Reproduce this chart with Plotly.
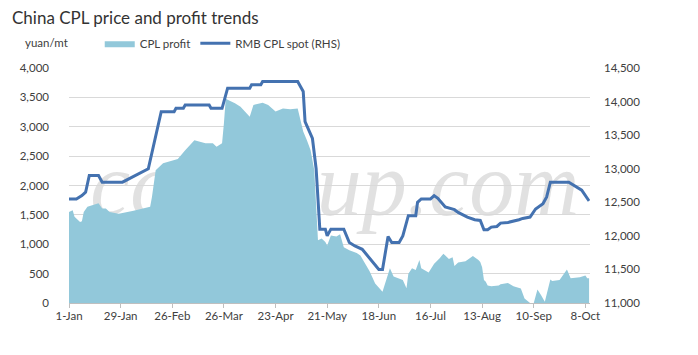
import plotly.graph_objects as go

# CPL profit (left axis, yuan/mt)
profit_dates = [
    "2018-01-01", "2018-01-03", "2018-01-04", "2018-01-07", "2018-01-08", "2018-01-09",
    "2018-01-11", "2018-01-16", "2018-01-17", "2018-01-19", "2018-01-21", "2018-01-23",
    "2018-01-28", "2018-02-05", "2018-02-14", "2018-02-15", "2018-02-17", "2018-02-21",
    "2018-02-26", "2018-03-01", "2018-03-05", "2018-03-10", "2018-03-16", "2018-03-20",
    "2018-03-22", "2018-03-25", "2018-03-26", "2018-03-27", "2018-03-28", "2018-04-01",
    "2018-04-04", "2018-04-09", "2018-04-11", "2018-04-16", "2018-04-19", "2018-04-23",
    "2018-04-27", "2018-05-01", "2018-05-05", "2018-05-06", "2018-05-08", "2018-05-10",
    "2018-05-12", "2018-05-14", "2018-05-16", "2018-05-18", "2018-05-20", "2018-05-21",
    "2018-05-23", "2018-05-26", "2018-05-28", "2018-05-30", "2018-06-02", "2018-06-06",
    "2018-06-08", "2018-06-13", "2018-06-16", "2018-06-20", "2018-06-23", "2018-06-24",
    "2018-06-26", "2018-07-01", "2018-07-03", "2018-07-04", "2018-07-06", "2018-07-08",
    "2018-07-10", "2018-07-11", "2018-07-15", "2018-07-18", "2018-07-21", "2018-07-23",
    "2018-07-26", "2018-07-28", "2018-07-29", "2018-07-31", "2018-08-04", "2018-08-08",
    "2018-08-11", "2018-08-12", "2018-08-13", "2018-08-14", "2018-08-15", "2018-08-16",
    "2018-08-18", "2018-08-22", "2018-08-23", "2018-08-27", "2018-08-30", "2018-09-03",
    "2018-09-05", "2018-09-08", "2018-09-10", "2018-09-12", "2018-09-14", "2018-09-16",
    "2018-09-19", "2018-09-20", "2018-09-24", "2018-09-26", "2018-09-28", "2018-09-30",
    "2018-10-05", "2018-10-08", "2018-10-09", "2018-10-10",
]
profit_values = [
    1550, 1580, 1470, 1380, 1390, 1550,
    1640, 1680, 1700, 1610, 1610, 1550,
    1520, 1570, 1640, 1810, 2260, 2380,
    2430, 2450, 2600, 2770, 2720, 2720,
    2660, 2720, 3060, 3480, 3460, 3400,
    3340, 3170, 3370, 3410, 3370, 3260,
    3310, 3300, 3310, 3170, 2920, 2770,
    2600, 2260, 1070, 1100, 1040, 980,
    1150, 1130, 1170, 950, 900, 850,
    810, 540, 330, 190, 470, 590,
    450, 390, 250, 500, 590, 560,
    730, 590, 520, 670, 760, 840,
    750, 780, 630, 690, 710, 800,
    730, 700, 610, 390, 360, 300,
    285, 300, 320, 340, 285, 245,
    75, 0, 0, 230, 130, 20,
    400, 375, 390, 470, 570, 420,
    440, 470, 420, 420,
]

# RMB CPL spot (right axis, yuan/mt)
spot_dates = [
    "2018-01-01", "2018-01-05", "2018-01-08", "2018-01-10", "2018-01-12", "2018-01-17",
    "2018-01-19", "2018-01-30", "2018-02-13", "2018-02-20", "2018-02-27", "2018-02-28",
    "2018-03-04", "2018-03-05", "2018-03-18", "2018-03-19", "2018-03-25", "2018-03-28",
    "2018-04-09", "2018-04-10", "2018-04-15", "2018-04-16", "2018-05-05", "2018-05-08",
    "2018-05-09", "2018-05-13", "2018-05-15", "2018-05-17", "2018-05-20", "2018-05-21",
    "2018-05-23", "2018-05-30", "2018-06-02", "2018-06-05", "2018-06-09", "2018-06-15",
    "2018-06-18", "2018-06-20", "2018-06-23", "2018-06-25", "2018-06-29", "2018-07-01",
    "2018-07-04", "2018-07-08", "2018-07-09", "2018-07-11", "2018-07-16", "2018-07-18",
    "2018-07-20", "2018-07-24", "2018-07-29", "2018-07-31", "2018-08-05", "2018-08-09",
    "2018-08-12", "2018-08-14", "2018-08-16", "2018-08-18", "2018-08-21", "2018-08-23",
    "2018-08-27", "2018-09-02", "2018-09-04", "2018-09-08", "2018-09-11", "2018-09-15",
    "2018-09-17", "2018-09-19", "2018-09-29", "2018-10-06", "2018-10-10",
]
spot_values = [
    12550, 12550, 12600, 12650, 12900, 12900,
    12800, 12800, 13000, 13850, 13850, 13900,
    13900, 13950, 13950, 13900, 13900, 14200,
    14200, 14250, 14250, 14300, 14300, 14150,
    13700, 13450, 13000, 12100, 12100, 12000,
    12100, 12100, 11900, 11850, 11800, 11600,
    11500, 11500, 11990, 11900, 11900, 12000,
    12300, 12300, 12500, 12550, 12550, 12600,
    12560, 12430, 12390, 12350, 12280, 12240,
    12230, 12090, 12090, 12130, 12140, 12190,
    12200, 12240, 12260, 12280, 12400, 12480,
    12580, 12800, 12800, 12680, 12520,
]

left_ticks = [0, 500, 1000, 1500, 2000, 2500, 3000, 3500, 4000]
right_ticks = [11000, 11500, 12000, 12500, 13000, 13500, 14000, 14500]

FONT = "Lato"
TXT = "#404040"
FS = 11.5

# page has an 8px body margin, so the figure is drawn 8px in from the window edge
W, H = 690, 347

fig = go.Figure()
fig.add_trace(go.Scatter(
    x=profit_dates, y=profit_values, name="CPL profit",
    mode="lines", fill="tozeroy", fillcolor="#92C8DA",
    line=dict(width=0, color="#92C8DA"), yaxis="y",
))
fig.add_trace(go.Scatter(
    x=spot_dates, y=spot_values, name="RMB CPL spot (RHS)",
    mode="lines", line=dict(width=3, color="#4472B0"), yaxis="y2",
))

fig.update_layout(
    width=W, height=H,
    margin=dict(l=53, r=108, t=60, b=52),
    paper_bgcolor="white", plot_bgcolor="white",
    font=dict(family=FONT, size=FS, color=TXT),
    title=dict(text="China CPL price and profit trends", x=4 / W, xref="container",
               xanchor="left", y=1 - 4 / H, yref="container", yanchor="top",
               pad=dict(t=0, l=0, b=0, r=0),
               font=dict(family=FONT, size=17, color="#333333")),
    showlegend=True,
    legend=dict(orientation="h", x=0.059, y=1.105, xanchor="left", yanchor="middle",
                font=dict(family=FONT, size=FS, color=TXT), bgcolor="rgba(0,0,0,0)",
                itemwidth=30, tracegroupgap=0),
    xaxis=dict(
        type="date", range=["2018-01-01", "2018-10-10 12:00"],
        tick0="2018-01-01", dtick=28 * 86400000, tickformat="%-d-%b",
        showgrid=False, showline=True, linecolor="#BFBFBF", linewidth=1,
        ticks="outside", ticklen=4, tickcolor="#BFBFBF", ticklabelstandoff=-2,
        tickfont=dict(family=FONT, size=FS, color=TXT),
    ),
    yaxis=dict(
        range=[0, 4000], tickvals=left_ticks, tickformat=",",
        showgrid=True, gridcolor="#D9D9D9", gridwidth=1, zeroline=False,
        showline=False, ticks="", ticklabelstandoff=19,
        tickfont=dict(family=FONT, size=FS, color=TXT),
    ),
    yaxis2=dict(
        range=[11000, 14500], tickvals=right_ticks, tickformat=",",
        overlaying="y", side="right", showgrid=False, zeroline=False,
        showline=False, ticks="", ticklabelstandoff=13,
        tickfont=dict(family=FONT, size=FS, color=TXT),
    ),
    annotations=[
        dict(text="yuan/mt", xref="paper", yref="paper", x=-0.089, y=1.11,
             xanchor="left", yanchor="middle", showarrow=False,
             font=dict(family=FONT, size=FS, color=TXT)),
    ],
    shapes=[
        dict(type="rect", xref="paper", yref="paper", x0=0.05, x1=0.97, y0=0.32, y1=0.77,
             line=dict(width=0), fillcolor="rgba(0,0,0,0)", layer="below",
             label=dict(text="ccfgroup.com", textposition="middle center",
                        font=dict(family="Liberation Serif", size=90,
                                  color="rgba(205,205,205,0.6)", style="italic"))),
    ],
)

fig.write_html("out.html")
